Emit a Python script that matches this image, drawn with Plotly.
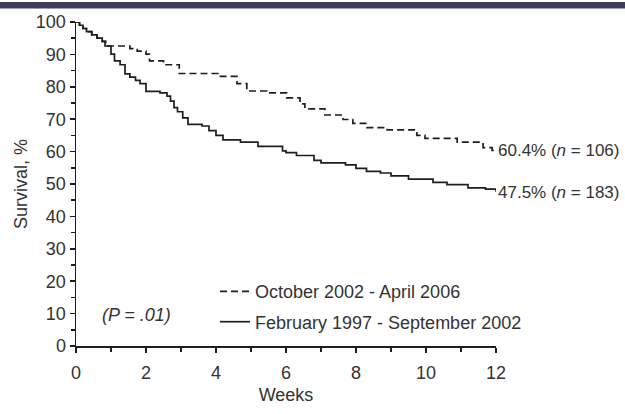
import plotly.graph_objects as go

# Kaplan-Meier survival estimates (weeks, %)
weeks_late = [0, 0.1, 0.2, 0.3, 0.45, 0.6, 0.75, 0.85, 1.54, 1.75, 2.0, 2.1, 2.5, 2.95,
              4.05, 4.6, 4.88, 5.45, 6.02, 6.4, 6.54, 7.11, 7.63, 7.91, 8.31, 8.89,
              9.74, 9.97, 10.89, 11.63, 11.89, 12.0]
surv_late = [100, 99, 98, 97, 96, 95, 94, 92.6, 91.8, 91.0, 90.1, 88.0, 86.8, 84.1,
             83.2, 81.0, 78.7, 78.1, 76.6, 74.7, 73.2, 71.3, 69.9, 68.7, 67.4, 66.7,
             65.0, 64.1, 62.9, 61.2, 60.4, 60.4]

weeks_early = [0, 0.1, 0.2, 0.3, 0.45, 0.6, 0.75, 0.83, 1.0, 1.1, 1.26, 1.4, 1.54, 1.7,
               1.83, 2.0, 2.4, 2.6, 2.7, 2.8, 2.9, 3.05, 3.2, 3.6, 3.8, 4.0, 4.2, 4.7,
               5.2, 5.9, 6.0, 6.3, 6.8, 7.0, 7.7, 8.0, 8.3, 8.7, 9.0, 9.5, 10.2, 10.6,
               11.2, 11.7, 12.0]
surv_early = [100, 99, 98, 97, 96, 95, 94, 92.6, 90.1, 88.0, 86.8, 84.0, 83.0, 82.0,
              81.0, 78.6, 78.1, 77.1, 75.6, 73.6, 72.3, 70.4, 68.4, 67.9, 66.5, 65.0,
              63.6, 62.9, 61.6, 60.2, 59.7, 58.8, 57.3, 56.5, 55.9, 54.8, 53.9, 53.4,
              52.5, 51.5, 50.5, 49.8, 48.8, 48.4, 47.6]

series_names = ["October 2002 - April 2006", "February 1997 - September 2002"]
end_labels = ["60.4% (<i>n</i> = 106)", "47.5% (<i>n</i> = 183)"]
end_values = [60.4, 47.5]
p_text = "<i>(P = .01)</i>"

x_ticks = [0, 2, 4, 6, 8, 10, 12]
y_ticks = [0, 10, 20, 30, 40, 50, 60, 70, 80, 90, 100]

FONT = "Liberation Sans, Arial, sans-serif"
INK = "#1e1e1e"
TXT = "#333333"
FS = 18

fig = go.Figure()
fig.add_trace(go.Scatter(x=weeks_late, y=surv_late, mode="lines", name=series_names[0],
                         line=dict(shape="hv", color=INK, width=1.7, dash="7px,4px"),
                         legendgroup="a", cliponaxis=False))
fig.add_trace(go.Scatter(x=weeks_early, y=surv_early, mode="lines", name=series_names[1],
                         line=dict(shape="hv", color=INK, width=1.7),
                         legendgroup="b", cliponaxis=False))

for v, t in zip(end_values, end_labels):
    fig.add_annotation(x=12, y=v, xref="x", yref="y", text=t, showarrow=False,
                       xanchor="left", yanchor="middle", xshift=0,
                       font=dict(family=FONT, size=17, color=TXT))

fig.add_annotation(x=0.69, y=9.6, xref="x", yref="y", text=p_text, showarrow=False,
                   xanchor="left", yanchor="middle",
                   font=dict(family=FONT, size=FS, color=TXT))

# thin dark band across the top edge
fig.add_shape(type="rect", xref="paper", yref="paper", xsizemode="pixel", ysizemode="pixel",
              xanchor=0, yanchor=1, x0=-100, x1=600, y0=13.5, y1=20,
              fillcolor="#3b3c5c", line=dict(width=0), layer="above")

axis_common = dict(showline=True, linecolor=INK, linewidth=1.5, ticks="outside",
                   ticklen=5, tickwidth=1.5, tickcolor=INK, showgrid=False,
                   zeroline=False, tickfont=dict(family=FONT, size=FS, color=TXT))

fig.update_xaxes(range=[0, 12], tickvals=x_ticks, **axis_common, ticklabelstandoff=5,
                 minor=dict(ticks="outside", ticklen=4, tickwidth=1.5, tickcolor=INK, dtick=1),
                 title=dict(text="Weeks", font=dict(family=FONT, size=FS, color=TXT), standoff=6))
fig.update_yaxes(range=[0, 100], tickvals=y_ticks, **axis_common,
                 minor=dict(ticks="outside", ticklen=4, tickwidth=1.5, tickcolor=INK, dtick=5),
                 title=dict(text="Survival, %", font=dict(family=FONT, size=FS, color=TXT), standoff=3))

fig.update_layout(
    width=625, height=414,
    margin=dict(l=76, r=129, t=16, b=53),
    plot_bgcolor="white", paper_bgcolor="white",
    showlegend=True,
    legend=dict(x=0.331, y=0.225, xanchor="left", yanchor="top", bgcolor="rgba(0,0,0,0)",
                font=dict(family=FONT, size=FS, color=TXT), itemwidth=30,
                tracegroupgap=4),
)

fig.write_html("out.html", config={"displayModeBar": False, "staticPlot": True},
               post_script="document.body.style.margin='0';")
